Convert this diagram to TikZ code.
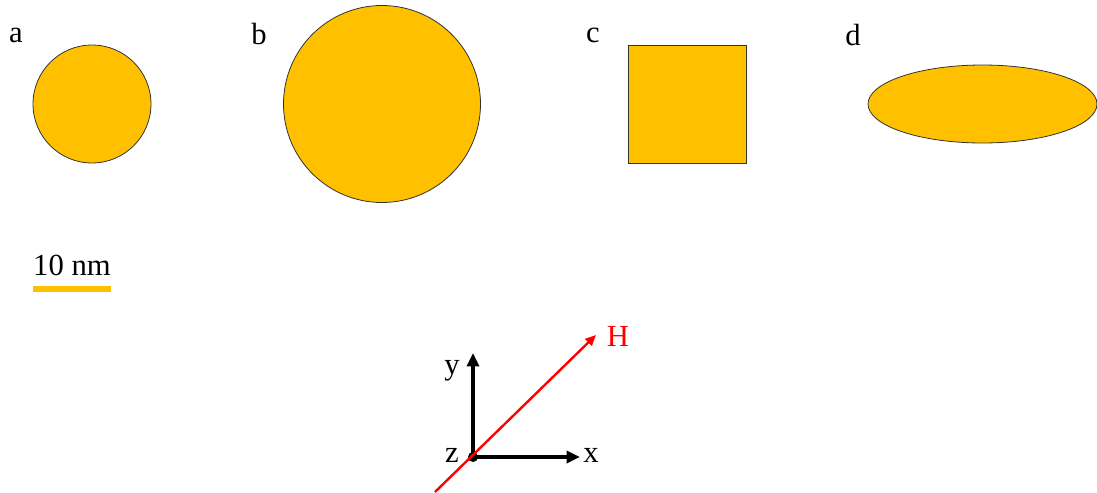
\documentclass[tikz,border=0pt]{standalone}
\usepackage{fontspec}
\setmainfont{Liberation Serif}
\usetikzlibrary{arrows.meta}
\definecolor{gold}{HTML}{FFC000}
\definecolor{hred}{HTML}{FF0000}
\begin{document}
\begin{tikzpicture}[x=0.75pt,y=-0.75pt,
  particle/.style={fill=gold,draw=black!80,line width=0.6pt},
  lbl/.style={font=\fontsize{23}{27}\selectfont,inner sep=0pt},
  axis/.style={line width=2.6pt,-{Triangle[length=10pt,width=9pt]}},
  field/.style={hred,line width=1.8pt,-{Triangle[length=8pt,width=7pt]}}]
\useasboundingbox (0,0) rectangle (1097,493);
% particles
\path[particle] (92,104) circle (59);
\path[particle] (382,104) circle (98.5);
\path[particle] (628,45) rectangle (746,163);
\path[particle] (982.5,104) ellipse (114.5 and 39);
% panel labels
\node[lbl] (la) at (16,35) {a};
\node[lbl] (lb) at (259,34) {b};
\node[lbl] (lc) at (593,35) {c};
\node[lbl] (ld) at (853,35) {d};
% scale bar
\node[lbl] (sbt) at (72,265) {10 nm};
\coordinate (sb1) at (33,289);
\coordinate (sb2) at (111,289);
\draw[gold,line width=3.8pt] (sb1) -- (sb2);
% axes
\coordinate (o) at (473,457);
\coordinate (ytip) at (473,353);
\coordinate (xtip) at (580,457);
\draw[axis] (o) -- (ytip);
\draw[axis] (o) -- (xtip);
\fill (o) circle (5);
\coordinate (hs) at (435,492);
\coordinate (he) at (596,335);
\draw[field] (hs) -- (he);
\node[lbl] (ly) at (452,371) {y};
\node[lbl] (lx) at (591,455) {x};
\node[lbl] (lz) at (452,455) {z};
\node[lbl,hred] (lh) at (618,336) {H};
\end{tikzpicture}
\end{document}
